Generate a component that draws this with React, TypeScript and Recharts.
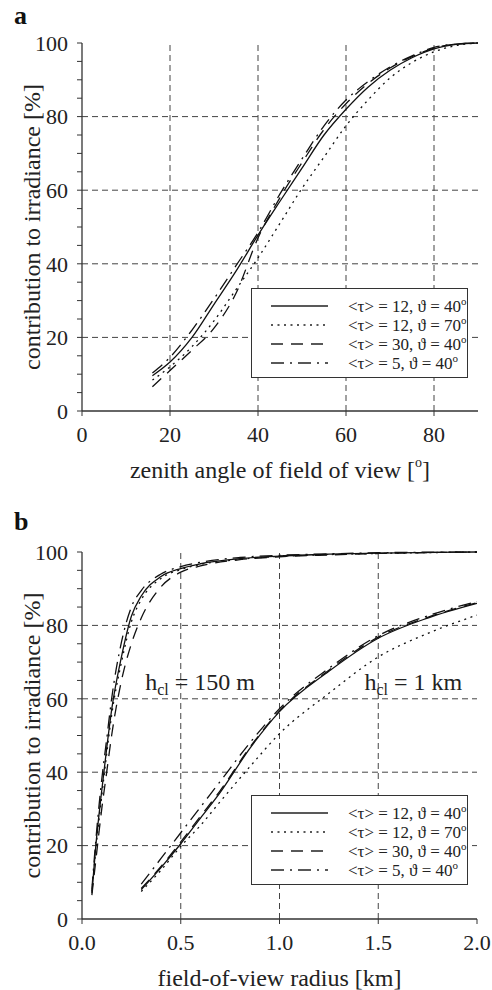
import React from 'react';
import {
  LineChart,
  Line,
  XAxis,
  YAxis,
  ReferenceLine,
  ReferenceDot,
} from 'recharts';

const FONT = '"Liberation Serif", "Times New Roman", serif';
const INK = '#222';

// panel a: zenith angle of field of view [deg]
const angleA = [16, 20, 25, 30, 35, 40, 45, 50, 55, 60, 65, 70, 75, 80, 85, 90];
const aT12d40 = [9.6, 13.3, 20, 29, 38, 47.8, 57, 66, 75, 82, 88, 92.6, 96, 98.4, 99.6, 100];
const aT12d70 = [8.4, 12, 17.5, 24.5, 33, 41.6, 51, 60.5, 69, 77.5, 84.5, 90.5, 94.7, 97.6, 99.3, 100];
const aT30d40 = [6.6, 11, 16.5, 22.5, 32, 47, 58, 67.5, 76.5, 83.5, 89, 93.2, 96.3, 98.6, 99.7, 100];
const aT5d40 = [10.3, 14.6, 22, 30.5, 39.5, 48.5, 59, 68.5, 77.5, 84.5, 89.5, 93.5, 96.5, 98.8, 99.7, 100];

// panel b: field-of-view radius [km], cloud height 150 m
const radius150 = [0.05, 0.07, 0.1, 0.125, 0.15, 0.2, 0.25, 0.3, 0.4, 0.5, 0.6, 0.8, 1.0, 1.25, 1.5, 2.0];
const b150T12d40 = [7, 20, 35, 46.5, 57, 71.5, 82.5, 88, 93.3, 95.5, 96.8, 98.2, 98.9, 99.4, 99.7, 100];
const b150T12d70 = [7.5, 19, 33.5, 45, 55.5, 70, 81, 87, 92.8, 95.2, 96.6, 98, 98.8, 99.3, 99.6, 100];
const b150T30d40 = [6.5, 16, 30, 40, 50, 65, 75, 82, 90.5, 94.5, 96.2, 97.9, 98.7, 99.2, 99.6, 100];
const b150T5d40 = [8, 21.5, 38, 49, 60, 75.5, 85, 89.5, 94, 96, 97.2, 98.5, 99.1, 99.5, 99.8, 100];

// panel b: cloud height 1 km
const radius1k = [0.3, 0.4, 0.5, 0.6, 0.7, 0.85, 1.0, 1.25, 1.5, 1.75, 2.0];
const b1kT12d40 = [8, 14, 20.5, 27.5, 34.5, 46.5, 56.5, 67.5, 76.5, 82, 86];
const b1kT12d70 = [7.5, 13.3, 19.8, 25.5, 32, 41.5, 50.5, 61.5, 71.4, 77.8, 82.8];
const b1kT30d40 = [8.3, 14.3, 21, 28, 35, 46.8, 56.7, 67.8, 76.8, 82.2, 86.2];
const b1kT5d40 = [9.5, 16.5, 23.5, 30.5, 37.5, 48, 57.3, 68.3, 77.2, 82.6, 86.5];

const DOT = '2 4.5';
const DASH = '12 8';
const DASHDOT = '13 6 2 6';

const legendItems = [
  { tau: '12', theta: '40', dash: undefined as string | undefined },
  { tau: '12', theta: '70', dash: DOT },
  { tau: '30', theta: '40', dash: DASH },
  { tau: '5', theta: '40', dash: DASHDOT },
];

const yTicks = [0, 5, 10, 15, 20, 25, 30, 35, 40, 45, 50, 55, 60, 65, 70, 75, 80, 85, 90, 95, 100];
const yGrid = [20, 40, 60, 80];

const zip = (xs: number[], ys: number[]) => xs.map((x, i) => ({ x, y: ys[i] }));

type Series = { key: string; data: { x: number; y: number }[]; dash?: string };

const tickStyle = { fill: INK, fontSize: 22, fontFamily: FONT };

const Legend = ({ left, top }: { left: number; top: number }) => (
  <div
    style={{
      position: 'absolute',
      left,
      top,
      width: 217,
      height: 90,
      border: '1.2px solid #333',
      background: '#fff',
      fontFamily: FONT,
      fontSize: 17,
      color: INK,
      paddingTop: 7,
      boxSizing: 'border-box',
    }}
  >
    {legendItems.map((it, i) => (
      <div key={i} style={{ height: 19, display: 'flex', alignItems: 'center' }}>
        <svg width={96} height={6} style={{ flex: 'none' }}>
          <line x1={19} x2={76} y1={3} y2={3} stroke={INK} strokeWidth={1.4} strokeDasharray={it.dash} />
        </svg>
        <span>
          &lt;τ&gt; = {it.tau}, ϑ = {it.theta}
          <sup style={{ fontSize: 11 }}>o</sup>
        </span>
      </div>
    ))}
  </div>
);

type PanelProps = {
  top: number;
  height: number;
  marginTop: number;
  marginRight: number;
  xAxisHeight: number;
  xDomain: [number, number];
  xTicks: number[];
  xGrid: number[];
  xFmt: (v: number) => string;
  xTitle: React.ReactNode;
  series: Series[];
  notes?: { x: number; y: number; text: string }[];
};

const Panel = (p: PanelProps) => (
  <div style={{ position: 'absolute', left: 0, top: p.top }}>
    <LineChart
      width={492}
      height={p.height}
      margin={{ top: p.marginTop, right: p.marginRight, bottom: 0, left: 0 }}
    >
      <XAxis
        dataKey='x'
        type='number'
        domain={p.xDomain}
        ticks={p.xTicks}
        tickFormatter={p.xFmt}
        allowDataOverflow
        height={p.xAxisHeight}
        tickSize={5}
        tickMargin={10}
        tick={tickStyle}
        stroke={INK}
        axisLine={{ stroke: '#333', strokeWidth: 1.3 }}
        tickLine={{ stroke: '#333' }}
        label={{
          content: ({ viewBox }: any) => (
            <text
              x={viewBox.x + viewBox.width / 2}
              y={viewBox.y + 59}
              textAnchor='middle'
              dominantBaseline='central'
              fontFamily={FONT}
              fontSize={24}
              fill={INK}
            >
              {p.xTitle}
            </text>
          ),
        }}
      />
      <XAxis
        xAxisId='top'
        orientation='top'
        type='number'
        domain={p.xDomain}
        height={0}
        tick={false}
        tickLine={false}
        axisLine={{ stroke: '#333', strokeWidth: 1.3 }}
      />
      <YAxis
        type='number'
        domain={[0, 100]}
        ticks={yTicks}
        interval={0}
        width={82}
        tickSize={5}
        tickMargin={9}
        tick={tickStyle}
        tickFormatter={(v: number) => (v % 20 === 0 ? String(v) : '')}
        axisLine={{ stroke: '#333', strokeWidth: 1.3 }}
        tickLine={{ stroke: '#333' }}
        label={{
          content: ({ viewBox }: any) => {
            const cx = 32;
            const cy = viewBox.y + viewBox.height / 2;
            return (
              <text
                x={cx}
                y={cy}
                transform={`rotate(-90 ${cx} ${cy})`}
                textAnchor='middle'
                dominantBaseline='central'
                fontFamily={FONT}
                fontSize={24}
                fill={INK}
              >
                contribution to irradiance [%]
              </text>
            );
          },
        }}
      />
      <YAxis
        yAxisId='right'
        orientation='right'
        type='number'
        domain={[0, 100]}
        ticks={[0, 20, 40, 60, 80, 100]}
        width={0}
        tickSize={5}
        tickFormatter={() => ''}
        axisLine={{ stroke: '#333', strokeWidth: 1.3 }}
        tickLine={{ stroke: '#333' }}
      />
      {yGrid.map((v) => (
        <ReferenceLine key={'h' + v} y={v} stroke='#444' strokeDasharray='6 4' />
      ))}
      {p.xGrid.map((v) => (
        <ReferenceLine key={'v' + v} x={v} stroke='#444' strokeDasharray='6 4' />
      ))}
      {p.series.map((s) => (
        <Line
          key={s.key}
          data={s.data}
          dataKey='y'
          type='monotone'
          stroke='#111'
          strokeWidth={1.3}
          strokeDasharray={s.dash}
          dot={false}
          activeDot={false}
          isAnimationActive={false}
        />
      ))}
      {(p.notes || []).map((n) => (
        <ReferenceDot
          key={n.text}
          x={n.x}
          y={n.y}
          r={0}
          ifOverflow='visible'
          shape={(sp: any) => (
            <text x={sp.cx} y={sp.cy} fontFamily={FONT} fontSize={24} fill={INK}>
              h
              <tspan dy={5} fontSize={16}>
                cl
              </tspan>
              <tspan dy={-5}>{n.text}</tspan>
            </text>
          )}
        />
      ))}
    </LineChart>
  </div>
);

const degTitle = (
  <>
    zenith angle of field of view [
    <tspan dy={-8} fontSize={14}>
      o
    </tspan>
    <tspan dy={8}>]</tspan>
  </>
);

const seriesA: Series[] = [
  { key: 'a1', data: zip(angleA, aT12d40) },
  { key: 'a2', data: zip(angleA, aT12d70), dash: DOT },
  { key: 'a3', data: zip(angleA, aT30d40), dash: DASH },
  { key: 'a4', data: zip(angleA, aT5d40), dash: DASHDOT },
];

const seriesB: Series[] = [
  { key: 'b1', data: zip(radius150, b150T12d40) },
  { key: 'b2', data: zip(radius150, b150T12d70), dash: DOT },
  { key: 'b3', data: zip(radius150, b150T30d40), dash: DASH },
  { key: 'b4', data: zip(radius150, b150T5d40), dash: DASHDOT },
  { key: 'k1', data: zip(radius1k, b1kT12d40) },
  { key: 'k2', data: zip(radius1k, b1kT12d70), dash: DOT },
  { key: 'k3', data: zip(radius1k, b1kT30d40), dash: DASH },
  { key: 'k4', data: zip(radius1k, b1kT5d40), dash: DASHDOT },
];

const panelTag = (t: string, top: number) => (
  <div
    style={{
      position: 'absolute',
      left: 14,
      top,
      fontFamily: FONT,
      fontWeight: 'bold',
      fontSize: 26,
      lineHeight: '26px',
      color: '#111',
    }}
  >
    {t}
  </div>
);

export default function App() {
  return (
    <div style={{ position: 'absolute', left: 0, top: 0, width: 492, height: 990, background: '#fff' }}>
      {panelTag('a', 3)}
      <Panel
        top={0}
        height={495}
        marginTop={43}
        marginRight={14}
        xAxisHeight={84}
        xDomain={[0, 90]}
        xTicks={[0, 20, 40, 60, 80]}
        xGrid={[20, 40, 60, 80]}
        xFmt={(v) => String(v)}
        xTitle={degTitle}
        series={seriesA}
      />
      <Legend left={251} top={288} />
      {panelTag('b', 509)}
      <Panel
        top={480}
        height={510}
        marginTop={72}
        marginRight={15}
        xAxisHeight={71}
        xDomain={[0, 2]}
        xTicks={[0, 0.5, 1, 1.5, 2]}
        xGrid={[0.5, 1, 1.5]}
        xFmt={(v) => v.toFixed(1)}
        xTitle='field-of-view radius [km]'
        series={seriesB}
        notes={[
          { x: 0.32, y: 62.5, text: ' = 150 m' },
          { x: 1.43, y: 62.5, text: ' = 1 km' },
        ]}
      />
      <Legend left={251} top={795} />
    </div>
  );
}
